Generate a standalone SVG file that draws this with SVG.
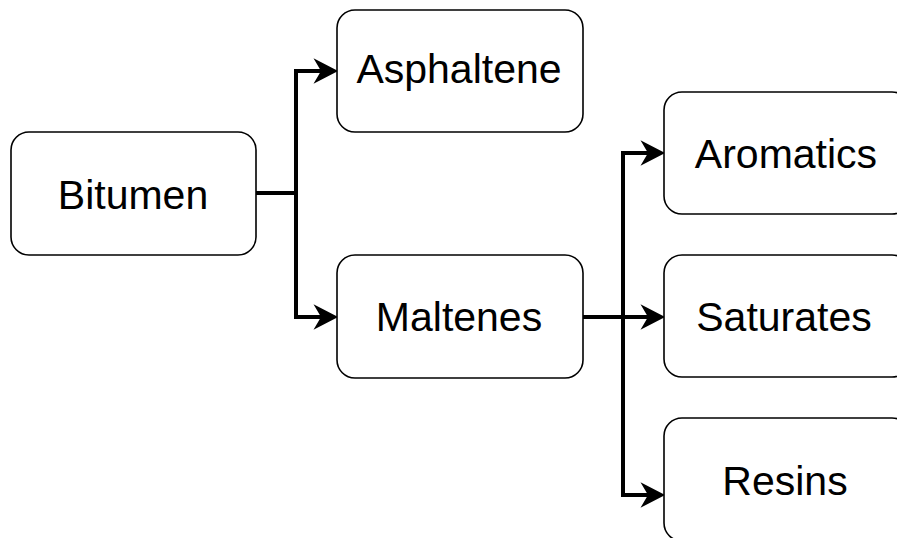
<svg xmlns="http://www.w3.org/2000/svg" width="897" height="538" viewBox="0 0 897 538">
<style>
.box{fill:#fff;stroke:#000;stroke-width:1.6}
.lbl{font-family:"Liberation Sans",Arial,sans-serif;font-size:41px;fill:#000;text-anchor:middle}
.edge{fill:none;stroke:#000;stroke-width:4;stroke-linejoin:miter}
</style>
<defs>
<marker id="arr" markerUnits="userSpaceOnUse" markerWidth="30" markerHeight="30" viewBox="-2 -14 28 28" refX="7" refY="0" orient="auto" overflow="visible">
<path d="M0,-12 L23,0 L0,12 L7,0 Z" fill="#000"/>
</marker>
</defs>
<rect width="897" height="538" fill="#fff"/>
<g id="connectors">
<path class="edge" d="M256,193 H296 V71 H321" marker-end="url(#arr)"/>
<path class="edge" d="M296,193 V317 H321" marker-end="url(#arr)"/>
<path class="edge" d="M583,317 H623 V153 H648" marker-end="url(#arr)"/>
<path class="edge" d="M583,317 H648" marker-end="url(#arr)"/>
<path class="edge" d="M623,317 V495 H648" marker-end="url(#arr)"/>
</g>
<g id="bitumen">
<rect class="box" x="11" y="132" width="245" height="123" rx="18"/>
<text class="lbl" x="133" y="209">Bitumen</text>
</g>
<g id="asphaltene">
<rect class="box" x="337" y="10" width="246" height="122" rx="18"/>
<text class="lbl" x="459" y="83">Asphaltene</text>
</g>
<g id="maltenes">
<rect class="box" x="337" y="255" width="246" height="123" rx="18"/>
<text class="lbl" x="459" y="331">Maltenes</text>
</g>
<g id="aromatics">
<rect class="box" x="664" y="92" width="246" height="122" rx="18"/>
<text class="lbl" x="786" y="168">Aromatics</text>
</g>
<g id="saturates">
<rect class="box" x="664" y="255" width="246" height="122" rx="18"/>
<text class="lbl" x="784" y="331">Saturates</text>
</g>
<g id="resins">
<rect class="box" x="664" y="418" width="246" height="123" rx="18"/>
<text class="lbl" x="785" y="495">Resins</text>
</g>
</svg>
